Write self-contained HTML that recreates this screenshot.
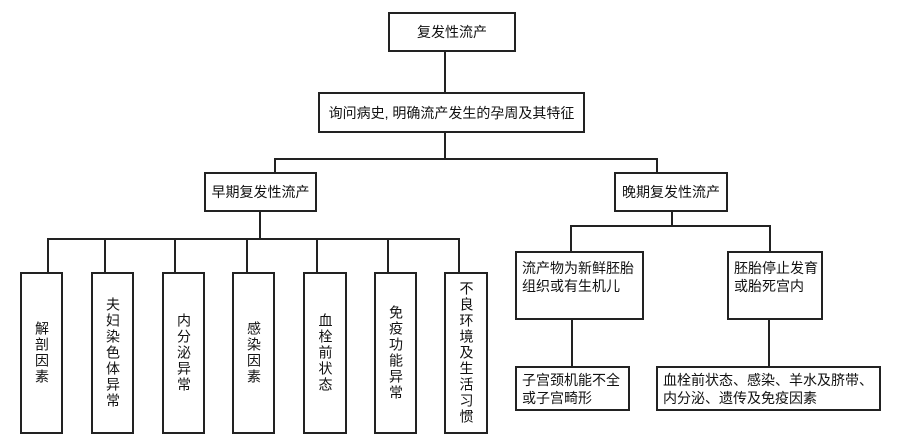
<!DOCTYPE html>
<html><head><meta charset="utf-8"><style>
body{margin:0;width:907px;height:446px;background:#fff;position:relative;overflow:hidden;font-family:"Liberation Sans","Noto Sans CJK SC",sans-serif;color:#111}
.b{position:absolute;border:2px solid #222;box-sizing:border-box;display:flex;align-items:center;justify-content:center;font-size:14px;line-height:18px}
.v{writing-mode:vertical-rl;letter-spacing:2px;line-height:17px}
.l{position:absolute;background:#222}
.t{justify-content:flex-start;align-items:flex-start;padding:6px 0 0 5px}
.t2{justify-content:flex-start;padding-left:5px}
</style></head><body>
<div class="b" style="left:388px;top:12px;width:128px;height:40px">复发性流产</div>
<div class="l" style="left:444px;top:52px;width:2px;height:40px"></div>
<div class="b" style="left:318px;top:92px;width:267px;height:41px">询问病史, 明确流产发生的孕周及其特征</div>
<div class="l" style="left:444px;top:133px;width:2px;height:26px"></div>
<div class="l" style="left:274px;top:158px;width:384px;height:2px"></div>
<div class="l" style="left:274px;top:158px;width:2px;height:14px"></div>
<div class="l" style="left:656px;top:158px;width:2px;height:14px"></div>
<div class="b" style="left:204px;top:172px;width:113px;height:40px">早期复发性流产</div>
<div class="b" style="left:614px;top:172px;width:114px;height:40px">晚期复发性流产</div>
<div class="l" style="left:259px;top:212px;width:2px;height:27px"></div>
<div class="l" style="left:47px;top:238px;width:413px;height:2px"></div>
<div class="l" style="left:47px;top:238px;width:2px;height:34px"></div>
<div class="l" style="left:104px;top:238px;width:2px;height:34px"></div>
<div class="l" style="left:174px;top:238px;width:2px;height:34px"></div>
<div class="l" style="left:246px;top:238px;width:2px;height:34px"></div>
<div class="l" style="left:316px;top:238px;width:2px;height:34px"></div>
<div class="l" style="left:387px;top:238px;width:2px;height:34px"></div>
<div class="l" style="left:458px;top:238px;width:2px;height:34px"></div>
<div class="b" style="left:20px;top:272px;width:43px;height:162px"><span class="v">解剖因素</span></div>
<div class="b" style="left:91px;top:272px;width:43px;height:162px"><span class="v">夫妇染色体异常</span></div>
<div class="b" style="left:162px;top:272px;width:43px;height:162px"><span class="v">内分泌异常</span></div>
<div class="b" style="left:232px;top:272px;width:43px;height:162px"><span class="v">感染因素</span></div>
<div class="b" style="left:303px;top:272px;width:44px;height:162px"><span class="v">血栓前状态</span></div>
<div class="b" style="left:374px;top:272px;width:43px;height:162px"><span class="v">免疫功能异常</span></div>
<div class="b" style="left:444px;top:272px;width:44px;height:162px"><span class="v">不良环境及生活习惯</span></div>
<div class="l" style="left:671px;top:212px;width:2px;height:14px"></div>
<div class="l" style="left:570px;top:225px;width:201px;height:2px"></div>
<div class="l" style="left:570px;top:225px;width:2px;height:26px"></div>
<div class="l" style="left:769px;top:225px;width:2px;height:26px"></div>
<div class="b t" style="left:515px;top:251px;width:129px;height:69px">流产物为新鲜胚胎<br>组织或有生机儿</div>
<div class="b t" style="left:727px;top:251px;width:96px;height:69px">胚胎停止发育<br>或胎死宫内</div>
<div class="l" style="left:571px;top:320px;width:2px;height:46px"></div>
<div class="l" style="left:768px;top:320px;width:2px;height:46px"></div>
<div class="b t2" style="left:515px;top:366px;width:115px;height:45px">子宫颈机能不全<br>或子宫畸形</div>
<div class="b t2" style="left:656px;top:366px;width:225px;height:45px">血栓前状态、感染、羊水及脐带、<br>内分泌、遗传及免疫因素</div>
</body></html>
